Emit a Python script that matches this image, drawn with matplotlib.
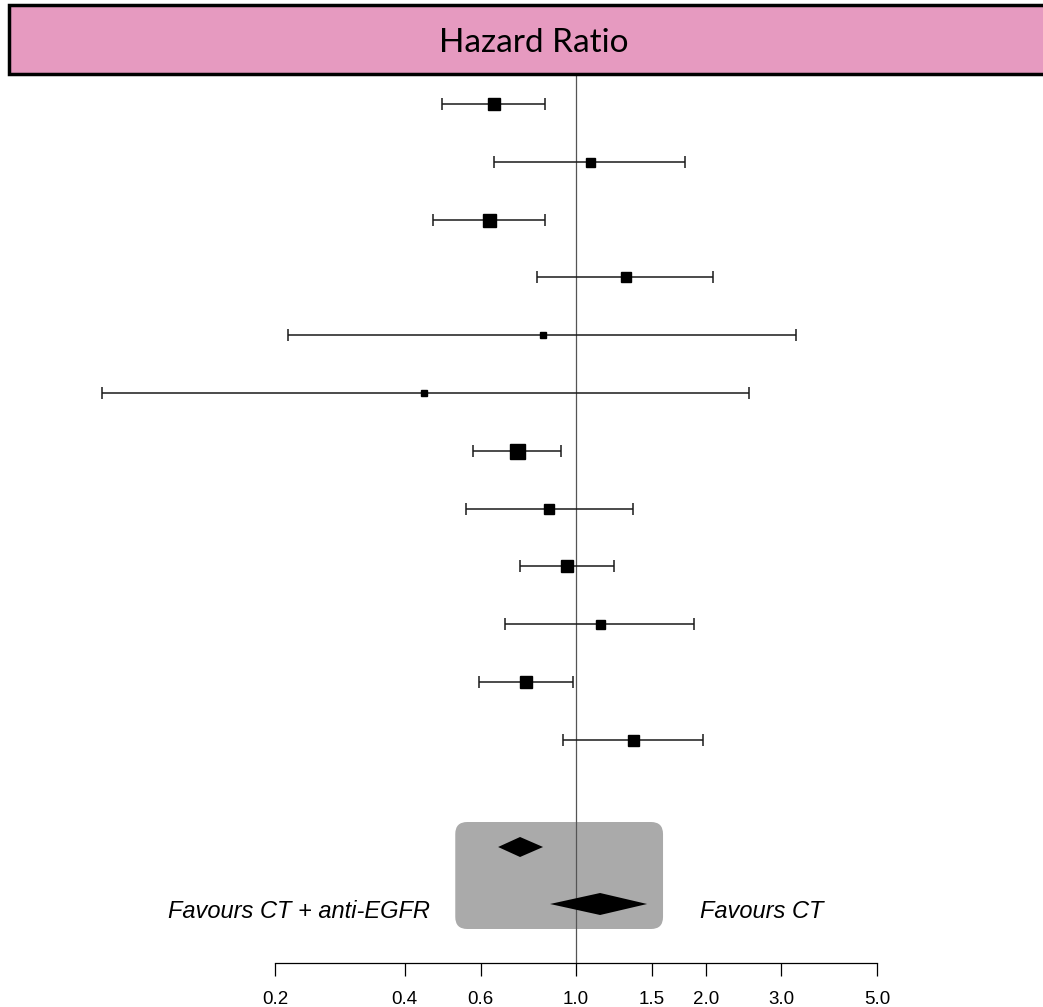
import matplotlib
matplotlib.use("Agg")
import matplotlib.pyplot as plt
from matplotlib.patches import Rectangle, FancyBboxPatch, Polygon
from matplotlib.transforms import IdentityTransform

# study-level hazard ratios with 95% CI
hr = [0.645, 1.078, 0.628, 1.306, 0.838, 0.444, 0.730, 0.866, 0.953, 1.137, 0.765, 1.356]
ci_low = [0.488, 0.645, 0.466, 0.812, 0.214, 0.079, 0.576, 0.555, 0.741, 0.684, 0.595, 0.933]
ci_high = [0.847, 1.791, 0.847, 2.080, 3.240, 2.520, 0.923, 1.356, 1.225, 1.879, 0.984, 1.970]
weights = [12, 9, 13, 10, 6, 6, 15, 10, 12, 9, 12, 11]

# pooled estimates (diamonds)
pooled_hr = [0.741, 1.137]
pooled_low = [0.659, 0.870]
pooled_high = [0.838, 1.462]

tick_vals = [0.2, 0.4, 0.6, 1.0, 1.5, 2.0, 3.0, 5.0]
tick_labels = ["0.2", "0.4", "0.6", "1.0", "1.5", "2.0", "3.0", "5.0"]

W, H = 1043, 1007
fig = plt.figure(figsize=(W / 100, H / 100), dpi=100)
ax = fig.add_axes([0, 0, 1, 1])
ax.set_xscale("log")
ax.set_xlim(0.0459, 12.15)

# y in row units: row 0 sits at 104 px, rows 57.8 px apart
row_px = 57.8
top_px = 104
ax.set_ylim((H - top_px) / row_px, -top_px / row_px)

def py(px):
    return (px - top_px) / row_px

# grey box behind pooled diamonds (rounded, drawn in pixels)
x0, y0 = ax.transData.transform((0.524, py(929)))
x1, y1 = ax.transData.transform((1.592, py(822)))
box = FancyBboxPatch((x0, y0), x1 - x0, y1 - y0, boxstyle="round,pad=0,rounding_size=12",
                     transform=IdentityTransform(), facecolor="#aaaaaa", edgecolor="none", zorder=1)
ax.add_patch(box)

# reference line
ax.plot([1, 1], [py(70), py(963)], color="#555555", lw=0.9, zorder=2)

rows = list(range(len(hr)))
for i in rows:
    ax.errorbar(hr[i], i, xerr=[[hr[i] - ci_low[i]], [ci_high[i] - hr[i]]],
                fmt="none", ecolor="#1a1a1a", elinewidth=1.1, capsize=4, capthick=1.1, zorder=3)
    ax.plot(hr[i], i, marker="s", color="black", markersize=weights[i] * 0.72,
            linestyle="none", zorder=4)

diamond_y = [py(847), py(904)]
diamond_h = [py(857) - py(847), py(915) - py(904)]
for k in range(len(pooled_hr)):
    yc, hh = diamond_y[k], diamond_h[k]
    ax.add_patch(Polygon([(pooled_low[k], yc), (pooled_hr[k], yc - hh),
                          (pooled_high[k], yc), (pooled_hr[k], yc + hh)],
                         closed=True, facecolor="black", edgecolor="none", zorder=4))

# header band
ax.add_patch(Rectangle((9 / W, 1 - 74 / H), 1.05, 69 / H, transform=ax.transAxes,
                       facecolor="#e69ac0", edgecolor="black", lw=2.5, zorder=5, clip_on=False))
ax.text(534 / W, 1 - 43 / H, "Hazard Ratio", transform=ax.transAxes, ha="center", va="center",
        fontsize=24, family="Lato", zorder=6)

ax.text(0.458, py(912), "Favours CT + anti-EGFR", ha="right", va="center",
        fontsize=17, style="italic", family="Liberation Sans")
ax.text(1.94, py(912), "Favours CT", ha="left", va="center",
        fontsize=17, style="italic", family="Liberation Sans")

# bottom axis
for s in ["top", "left", "right"]:
    ax.spines[s].set_visible(False)
ax.spines["bottom"].set_position(("data", py(963)))
ax.spines["bottom"].set_bounds(0.2, 5.0)
ax.spines["bottom"].set_linewidth(0.9)
ax.set_yticks([])
ax.set_xticks(tick_vals)
ax.set_xticklabels(tick_labels, family="Liberation Sans", fontsize=13.5)
ax.xaxis.set_minor_locator(matplotlib.ticker.NullLocator())
ax.tick_params(axis="x", direction="out", length=9, width=0.9, pad=11)

fig.savefig("out.png", dpi=100)
